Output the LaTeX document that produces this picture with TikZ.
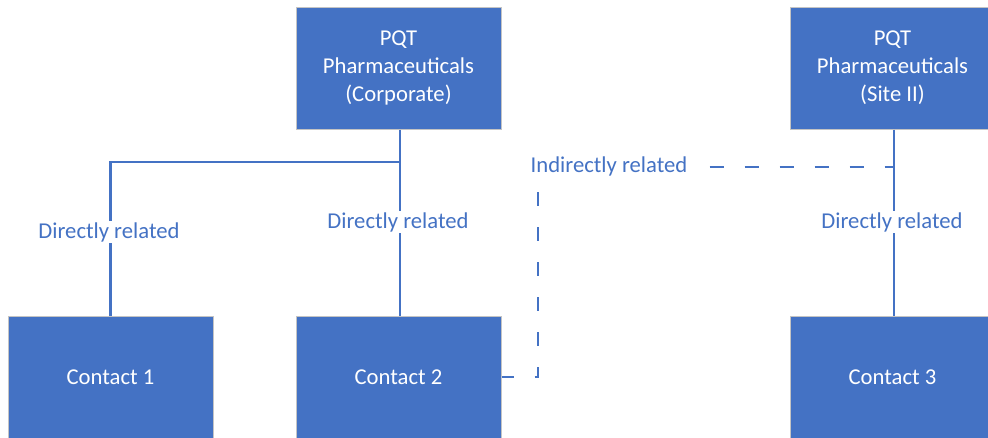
\documentclass[tikz,border=0pt]{standalone}
\usepackage{fontspec}
\setmainfont{Carlito}

\definecolor{boxblue}{RGB}{68,114,196}
\definecolor{boxedge}{RGB}{196,196,196}

\tikzset{every picture/.style={line width=0.75pt}}
\tikzset{
  orgbox/.style={fill=boxblue, draw=boxedge, line width=0.75pt, text=white,
    minimum width=153.75pt, minimum height=91.5pt, align=center,
    font=\fontsize{17pt}{21pt}\selectfont},
  rellabel/.style={fill=white, text=boxblue, inner sep=1pt,
    font=\fontsize{17pt}{20pt}\selectfont},
  relline/.style={draw=boxblue, line width=1.8pt},
  indline/.style={draw=boxblue, line width=1.8pt,
    dash pattern=on 10.5pt off 15.75pt, dash phase=1.5pt}
}

\begin{document}
\begin{tikzpicture}[x=0.75pt,y=0.75pt,yscale=-1,xscale=1]
	\useasboundingbox (0,0) rectangle (988,437);

	%Shape: Rectangle [id:corp] 
	\node [orgbox] (corp) at (398.5,68) {PQT\\Pharmaceuticals\\(Corporate)};
	%Shape: Rectangle [id:site] 
	\node [orgbox] (site) at (892.5,68) {PQT\\Pharmaceuticals\\(Site II)};
	%Shape: Rectangle [id:cA] 
	\node [orgbox] (cA) at (110.5,377) {Contact 1};
	%Shape: Rectangle [id:cB] 
	\node [orgbox] (cB) at (398.5,377) {Contact 2};
	%Shape: Rectangle [id:cC] 
	\node [orgbox] (cC) at (892.5,377) {Contact 3};

	\coordinate (split) at (400,162);
	\coordinate (bend) at (538,377);
	\coordinate (join) at (894,167);

	%Straight Lines [id:relA] 
	\draw [relline] (corp.south -| split) -- (split) -| (cA.north);
	%Straight Lines [id:relB] 
	\draw [relline] (split) -- (cB.north -| split);
	%Straight Lines [id:relC] 
	\draw [relline] (site.south -| join) -- (cC.north -| join);
	%Dashed Lines [id:ind] 
	\draw [indline] (cB.east) -- (bend) -- (bend |- join) -- (join);

	% Text Node
	\node [rellabel] (lA) at (109,232) {Directly related};
	% Text Node
	\node [rellabel] (lB) at (398,222) {Directly related};
	% Text Node
	\node [rellabel] (lC) at (892,222) {Directly related};
	% Text Node
	\node [rellabel] (lD) at (609,166) {Indirectly related};

\end{tikzpicture}
\end{document}
